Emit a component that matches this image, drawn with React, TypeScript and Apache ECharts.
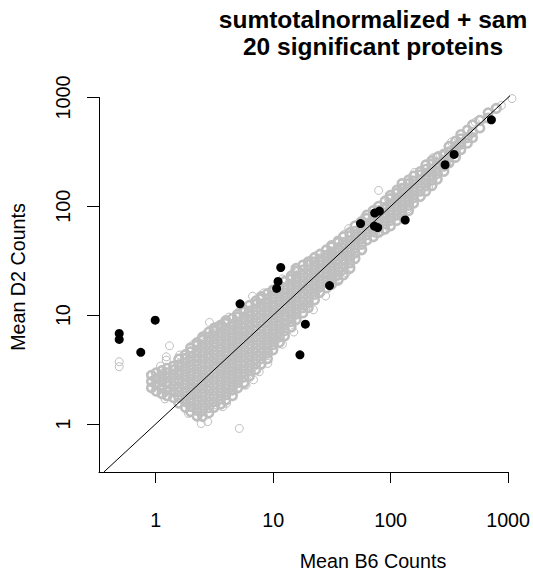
import React, { useEffect, useRef } from "react";
import * as echarts from "echarts";

const titleLines = ["sumtotalnormalized + sam", "20 significant proteins"];
const xAxisTitle = "Mean B6 Counts";
const yAxisTitle = "Mean D2 Counts";
const xTicks = [1, 10, 100, 1000];
const yTicks = [1, 10, 100, 1000];

// 20 significant proteins (black, filled)
const sigB6 = [721, 347, 291, 73.2, 80.2, 55.4, 72.7, 77.6, 133, 11.6, 11.0, 10.7, 30.2, 5.22, 18.8, 16.9, 0.99, 0.489, 0.489, 0.746];
const sigD2 = [624, 300, 241, 86.8, 90.5, 69.4, 65.9, 63.8, 74.9, 27.4, 20.4, 17.6, 18.7, 12.7, 8.27, 4.32, 9.0, 6.79, 5.98, 4.55];

// all other proteins (grey, open) : dense cloud, one column per B6 value
const grayCloud: [number, number[]][] = [
  [0.92, [2.15, 2.45, 2.8]],
  [1.01, [2.0, 2.3, 2.6, 2.95]],
  [1.13, [1.9, 2.15, 2.45, 2.75, 3.1]],
  [1.25, [1.82, 2.05, 2.35, 2.65, 2.95, 3.25]],
  [1.42, [1.74, 1.98, 2.22, 2.5, 2.8, 3.15, 3.4]],
  [1.57, [1.55, 1.75, 1.98, 2.2, 2.5, 2.8, 3.1, 3.5, 3.95]],
  [1.79, [1.42, 1.6, 1.8, 2.02, 2.28, 2.55, 2.85, 3.2, 3.6, 4.0, 4.35]],
  [1.98, [1.3, 1.45, 1.64, 1.85, 2.08, 2.33, 2.6, 2.92, 3.3, 3.7, 4.15, 4.6, 5.0]],
  [2.25, [1.18, 1.33, 1.5, 1.68, 1.9, 2.13, 2.4, 2.7, 3.02, 3.4, 3.8, 4.25, 4.75, 5.3, 5.6]],
  [2.5, [1.17, 1.32, 1.48, 1.66, 1.87, 2.1, 2.36, 2.65, 2.98, 3.35, 3.75, 4.2, 4.7, 5.3, 5.95, 6.3]],
  [2.83, [1.26, 1.41, 1.58, 1.78, 2.0, 2.24, 2.5, 2.8, 3.15, 3.55, 4.0, 4.45, 5.0, 5.6, 6.3, 7.0]],
  [3.14, [1.42, 1.6, 1.8, 2.02, 2.27, 2.55, 2.87, 3.22, 3.6, 4.05, 4.55, 5.1, 5.7, 6.4, 7.2, 7.6]],
  [3.57, [1.52, 1.7, 1.92, 2.15, 2.42, 2.72, 3.05, 3.42, 3.85, 4.3, 4.85, 5.45, 6.1, 6.85, 7.7, 8.1]],
  [3.96, [1.66, 1.86, 2.1, 2.35, 2.65, 2.97, 3.33, 3.75, 4.2, 4.7, 5.3, 5.95, 6.65, 7.5, 8.4, 8.9]],
  [4.5, [1.82, 2.05, 2.3, 2.58, 2.9, 3.25, 3.65, 4.1, 4.6, 5.15, 5.8, 6.5, 7.3, 8.2, 9.3]],
  [4.98, [2.14, 2.4, 2.7, 3.02, 3.4, 3.8, 4.27, 4.8, 5.4, 6.05, 6.8, 7.6, 8.55, 9.6, 10.2]],
  [5.65, [2.4, 2.7, 3.03, 3.4, 3.8, 4.27, 4.8, 5.4, 6.05, 6.8, 7.6, 8.5, 9.55, 10.7, 11.2]],
  [6.28, [2.75, 3.08, 3.45, 3.87, 4.35, 4.88, 5.47, 6.15, 6.9, 7.75, 8.7, 9.75, 10.9, 12.3]],
  [7.12, [3.16, 3.55, 3.98, 4.47, 5.0, 5.6, 6.3, 7.1, 7.95, 8.9, 10.0, 11.2, 12.6, 13.5]],
  [7.9, [3.55, 3.98, 4.47, 5.0, 5.6, 6.3, 7.1, 7.95, 8.9, 10.0, 11.2, 12.6, 14.1, 14.8]],
  [8.95, [3.98, 4.47, 5.0, 5.6, 6.3, 7.1, 7.95, 8.9, 10, 11.2, 12.6, 14.1, 15.8]],
  [9.96, [4.8, 5.35, 6.0, 6.7, 7.5, 8.4, 9.4, 10.5, 11.8, 13.2, 14.8, 16.6, 17]],
  [11.3, [5.6, 6.3, 7.05, 7.9, 8.85, 9.9, 11.1, 12.4, 13.9, 15.6, 17.5, 18.6]],
  [12.5, [6.45, 7.2, 8.1, 9.05, 10.1, 11.4, 12.7, 14.3, 16, 17.9, 20.4]],
  [14.2, [7.75, 8.7, 9.7, 10.9, 12.2, 13.7, 15.3, 17.2, 19.2, 21.5, 22.9]],
  [15.7, [9.1, 10.2, 11.4, 12.8, 14.4, 16.1, 18.0, 20.2, 22.6, 25.3, 26.9]],
  [17.9, [10.5, 11.7, 13.2, 14.8, 16.5, 18.5, 20.7, 23.2, 26, 28.8]],
  [19.9, [11.7, 13.1, 14.7, 16.5, 18.5, 20.7, 23.2, 26, 29.1, 30.9]],
  [22.5, [13.8, 15.5, 17.4, 19.5, 21.8, 24.4, 27.4, 30.7, 33.9]],
  [25, [16.2, 18.2, 20.4, 22.9, 25.6, 28.7, 32.2, 36.3]],
  [28.4, [17.8, 20, 22.4, 25.1, 28.2, 31.6, 35.4, 39.8]],
  [31.4, [19.1, 21.4, 24, 26.9, 30.2, 33.8, 37.9, 42.4, 43.6]],
  [35.7, [20.9, 23.4, 26.3, 29.5, 33, 37, 41.5, 46.5, 47.9]],
  [39.6, [23.4, 26.3, 29.5, 33, 37, 41.5, 46.5, 52.5]],
  [45, [26.9, 30.2, 33.9, 38, 42.6, 47.8, 53.6, 57.5]],
  [49.8, [33.1, 37.2, 41.7, 46.8, 52.5, 58.9, 66.1]],
  [56.5, [39.8, 44.7, 50.1, 56.2, 63.1, 70.8, 72.4]],
  [62.8, [49, 55, 61.7, 69.2, 77.6, 83.2]],
  [71.2, [52.5, 58.9, 66.1, 74.1, 83.2, 91.2]],
  [79, [57.5, 64.6, 72.4, 81.3, 91.2, 100]],
  [89.5, [61.7, 69.2, 77.6, 87.1, 97.7, 112]],
  [99.6, [66.1, 74.1, 83.2, 93.3, 105, 118, 126]],
  [113, [74.1, 83.2, 93.3, 105, 118, 132, 141]],
  [125, [81.3, 91.2, 102, 115, 129, 145, 162]],
  [142, [91.2, 102, 115, 129, 145, 162, 174]],
  [157, [107, 120, 135, 151, 170, 190]],
  [179, [123, 138, 155, 174, 195, 209]],
  [199, [138, 155, 174, 195, 219, 240]],
  [225, [155, 174, 195, 219, 246, 263]],
  [250, [178, 200, 224, 251, 282]],
  [284, [209, 234, 263, 295, 302]],
  [314, [251, 282, 316, 355]],
  [357, [282, 316, 355, 398]],
  [396, [331, 372, 417, 457]],
  [450, [380, 427, 501]],
  [498, [427, 479, 562]],
  [575, [525, 617]],
  [676, [646, 724]],
  [794, [794]],
];

// scattered grey proteins at the edges of / outside the dense cloud
const grayOutB6 = [0.489, 0.489, 1.23, 1.31, 1.23, 1.76, 2.87, 3.72, 3.37, 6.67, 5.15, 2.44, 2.77, 3.72, 5.87, 7.6, 6.26, 10.5, 5.67, 16.1, 20.9, 36.3, 23.7, 18.9, 44, 124, 124, 79, 254, 74.2, 34.9, 3.27, 2.21, 877, 1080, 525,
  1.1, 1.6, 2.1, 2.6, 3.3, 4.2, 5.3, 8.3, 12, 14.8, 27, 40, 60, 95, 160, 230, 330,
  1.2, 1.9, 4.0, 6.8, 9, 12, 15, 22, 28, 42, 58, 85, 140, 210, 300];
const grayOutD2 = [3.73, 3.36, 4.14, 5.23, 3.86, 4.3, 8.57, 8.1, 7.4, 14.9, 0.91, 1.01, 1.05, 1.44, 2.28, 3.02, 2.72, 5.9, 2.28, 26.8, 32, 21.7, 16.9, 11.9, 62.4, 150, 161, 140, 294, 56.2, 22.5, 1.5, 1.2, 845, 977, 593,
  3.4, 4.3, 5.4, 6.6, 7.9, 9.6, 11.3, 16, 21.5, 24.5, 36, 55, 80, 118, 205, 280, 390,
  1.7, 1.25, 1.55, 2.55, 3.6, 5.4, 7.0, 11.2, 15, 24.5, 40, 59, 95, 150, 240];

// identity line y = x
const identityLine = [0.362, 1600];

const FONT = "'Liberation Sans', Arial, sans-serif";

export default function App() {
  const ref = useRef<HTMLDivElement>(null);

  useEffect(() => {
    if (!ref.current) return;
    const chart = echarts.init(ref.current, null, { renderer: "svg" });

    const cloudPoints: number[][] = [];
    grayCloud.forEach(([x, ys]) => ys.forEach((y) => cloudPoints.push([x, y])));
    const outPoints = grayOutB6.map((x, i) => [x, grayOutD2[i]]);
    const sigPoints = sigB6.map((x, i) => [x, sigD2[i]]);

    const axisCommon = {
      type: "log",
      logBase: 10,
      max: 1000,
      axisLine: { show: true, lineStyle: { color: "#000", width: 1 } },
      splitLine: { show: false },
      minorTick: { show: false },
    };

    chart.setOption({
      animation: false,
      backgroundColor: "#fff",
      grid: { left: 99, right: 23, top: 97.5, bottom: 101, containLabel: false },
      xAxis: {
        ...axisCommon,
        min: 0.329,
        axisTick: { show: true, length: 11, customValues: xTicks, lineStyle: { color: "#000" } },
        axisLabel: {
          customValues: xTicks,
          margin: 38,
          fontSize: 19.7,
          color: "#000",
          fontFamily: FONT,
          formatter: (v: number) => String(v),
        },
      },
      yAxis: {
        ...axisCommon,
        min: 0.362,
        axisTick: { show: true, length: 12, customValues: yTicks, lineStyle: { color: "#000" } },
        axisLabel: {
          customValues: yTicks,
          rotate: 90,
          margin: 26,
          fontSize: 19.7,
          color: "#000",
          fontFamily: FONT,
          formatter: (v: number) => String(v),
        },
      },
      graphic: [
        {
          type: "text",
          x: 373,
          y: 19.6,
          style: { text: titleLines[0], fontSize: 24.5, fontWeight: "bold", fontFamily: FONT, align: "center", verticalAlign: "middle", fill: "#000" },
        },
        {
          type: "text",
          x: 373,
          y: 46.6,
          style: { text: titleLines[1], fontSize: 24.5, fontWeight: "bold", fontFamily: FONT, align: "center", verticalAlign: "middle", fill: "#000" },
        },
        {
          type: "text",
          x: 373,
          y: 561,
          style: { text: xAxisTitle, fontSize: 19.7, fontFamily: FONT, align: "center", verticalAlign: "middle", fill: "#000" },
        },
        {
          type: "text",
          x: 18,
          y: 277,
          rotation: Math.PI / 2,
          style: { text: yAxisTitle, fontSize: 19.7, fontFamily: FONT, align: "center", verticalAlign: "middle", fill: "#000" },
        },
      ],
      series: [
        {
          type: "scatter",
          data: cloudPoints,
          symbol: "circle",
          symbolSize: 8.5,
          clip: false,
          itemStyle: { color: "rgba(0,0,0,0)", borderColor: "#bebebe", borderWidth: 2.6, opacity: 1 },
          emphasis: { disabled: true },
          z: 2,
        },
        {
          type: "scatter",
          data: outPoints,
          symbol: "circle",
          symbolSize: 8,
          clip: false,
          itemStyle: { color: "rgba(0,0,0,0)", borderColor: "#bebebe", borderWidth: 1, opacity: 1 },
          emphasis: { disabled: true },
          z: 2,
        },
        {
          type: "line",
          data: identityLine.map((v) => [v, v]),
          showSymbol: false,
          clip: false,
          lineStyle: { color: "#000", width: 1 },
          emphasis: { disabled: true },
          z: 3,
        },
        {
          type: "scatter",
          data: sigPoints,
          symbol: "circle",
          symbolSize: 9,
          clip: false,
          itemStyle: { color: "#000", opacity: 1 },
          emphasis: { disabled: true },
          z: 4,
        },
      ],
    });

    return () => chart.dispose();
  }, []);

  return (
    <div
      ref={ref}
      style={{ position: "fixed", left: 0, top: 0, width: 533, height: 573, background: "#fff" }}
    />
  );
}
